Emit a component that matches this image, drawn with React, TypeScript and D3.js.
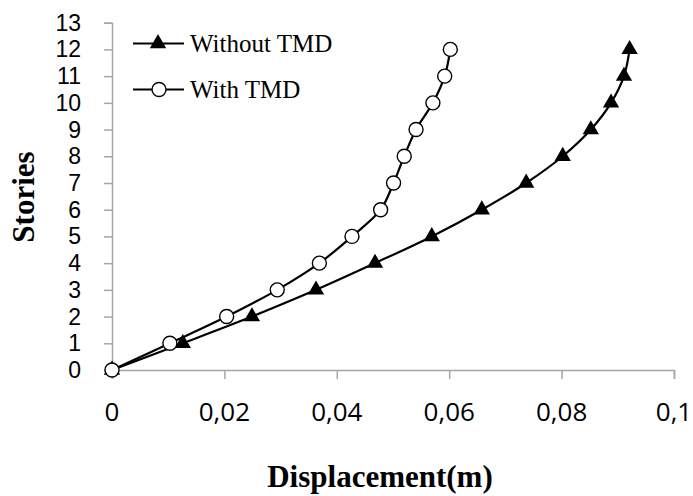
import { useEffect, useRef } from 'react';
import * as d3 from 'd3';

const W = 693;
const H = 496;

const stories = [0, 1, 2, 3, 4, 5, 6, 7, 8, 9, 10, 11, 12];
const withoutTMD = [0, 0.0126, 0.0249, 0.0363, 0.0468, 0.0569, 0.0658, 0.0737, 0.0802, 0.0852, 0.0888, 0.0911, 0.0921];
const withTMD = [0, 0.0103, 0.0204, 0.0294, 0.0369, 0.0427, 0.0478, 0.0501, 0.0520, 0.0541, 0.0571, 0.0592, 0.0602];

const xTicks = [0, 0.02, 0.04, 0.06, 0.08, 0.1];
const xTickLabels = ['0', '0,02', '0,04', '0,06', '0,08', '0,1'];
const yTicks = d3.range(0, 14);

const seriesNames = ['Without TMD', 'With TMD'];

export default function App() {
  const svgRef = useRef<SVGSVGElement>(null);

  useEffect(() => {
    const svg = d3.select(svgRef.current);
    svg.selectAll('*').remove();

    const x = d3.scaleLinear().domain([0, 0.1]).range([112, 674]);
    const y = d3.scaleLinear().domain([0, 13]).range([370, 22.7]);
    const axisColor = '#a6a6a6';

    // ── axes ──────────────────────────────────────
    const xAxis = svg.append('g').attr('transform', `translate(0,${y(0)})`)
      .call(d3.axisBottom(x).tickValues(xTicks).tickSize(9).tickFormat(() => ''));
    xAxis.select('.domain').attr('stroke', axisColor).attr('stroke-width', 1.5);
    xAxis.selectAll('.tick line').attr('stroke', axisColor).attr('stroke-width', 1.5);

    const yAxis = svg.append('g').attr('transform', `translate(${x(0)},0)`)
      .call(d3.axisLeft(y).tickValues(yTicks).tickSize(8).tickFormat(() => ''));
    yAxis.select('.domain').attr('stroke', axisColor).attr('stroke-width', 1.5);
    yAxis.selectAll('.tick line').attr('stroke', axisColor).attr('stroke-width', 1.5);

    // tick labels
    svg.append('g').selectAll('text')
      .data(xTicks)
      .join('text')
      .attr('x', d => x(d))
      .attr('y', 421)
      .attr('text-anchor', 'middle')
      .attr('font-family', 'Open Sans, sans-serif')
      .attr('font-size', 26)
      .attr('fill', '#000')
      .text((_, i) => xTickLabels[i]);

    svg.append('g').selectAll('text')
      .data(yTicks)
      .join('text')
      .attr('x', 81)
      .attr('y', d => y(d))
      .attr('dy', '0.35em')
      .attr('text-anchor', 'end')
      .attr('font-family', 'Liberation Sans, Arial, sans-serif')
      .attr('font-size', 23)
      .attr('fill', '#000')
      .text(d => d);

    // axis titles
    svg.append('text')
      .attr('x', 380)
      .attr('y', 487)
      .attr('text-anchor', 'middle')
      .attr('font-family', 'Liberation Serif, Times New Roman, serif')
      .attr('font-weight', 'bold')
      .attr('font-size', 31)
      .text('Displacement(m)');

    svg.append('text')
      .attr('transform', 'translate(34,197) rotate(-90)')
      .attr('text-anchor', 'middle')
      .attr('font-family', 'Liberation Serif, Times New Roman, serif')
      .attr('font-weight', 'bold')
      .attr('font-size', 31)
      .text('Stories');

    // ── series ────────────────────────────────────
    const line = d3.line<[number, number]>()
      .x(d => x(d[0]))
      .y(d => y(d[1]))
      .curve(d3.curveCatmullRom.alpha(0.5));

    const triangle = d3.symbol().type(d3.symbolTriangle).size(115);

    const ptsA: [number, number][] = stories.map((s, i) => [withoutTMD[i], s]);
    const ptsB: [number, number][] = stories.map((s, i) => [withTMD[i], s]);

    svg.append('path').attr('d', line(ptsA)).attr('fill', 'none').attr('stroke', '#000').attr('stroke-width', 2.2);
    svg.append('path').attr('d', line(ptsB)).attr('fill', 'none').attr('stroke', '#000').attr('stroke-width', 2.2);

    svg.append('g').selectAll('path')
      .data(ptsA)
      .join('path')
      .attr('transform', d => `translate(${x(d[0])},${y(d[1])})`)
      .attr('d', triangle()!)
      .attr('fill', '#000');

    svg.append('g').selectAll('circle')
      .data(ptsB)
      .join('circle')
      .attr('cx', d => x(d[0]))
      .attr('cy', d => y(d[1]))
      .attr('r', 7)
      .attr('fill', '#fff')
      .attr('stroke', '#000')
      .attr('stroke-width', 1.4);

    // ── legend ────────────────────────────────────
    const legend = svg.append('g');
    const rows = [43.5, 89.5];
    seriesNames.forEach((name, i) => {
      const g = legend.append('g').attr('transform', `translate(0,${rows[i]})`);
      g.append('line').attr('x1', 133).attr('x2', 184).attr('stroke', '#000').attr('stroke-width', 2.2);
      if (i === 0) {
        g.append('path').attr('transform', 'translate(158,0)').attr('d', triangle()!).attr('fill', '#000');
      } else {
        g.append('circle').attr('cx', 159).attr('r', 7).attr('fill', '#fff').attr('stroke', '#000').attr('stroke-width', 1.4);
      }
      g.append('text')
        .attr('x', 190)
        .attr('dy', '0.33em')
        .attr('font-family', 'Liberation Serif, Times New Roman, serif')
        .attr('font-size', 25)
        .text(name);
    });
  }, []);

  return (
    <div style={{ position: 'fixed', left: 0, top: 0, background: '#fff' }}>
      <svg ref={svgRef} width={W} height={H} />
    </div>
  );
}
